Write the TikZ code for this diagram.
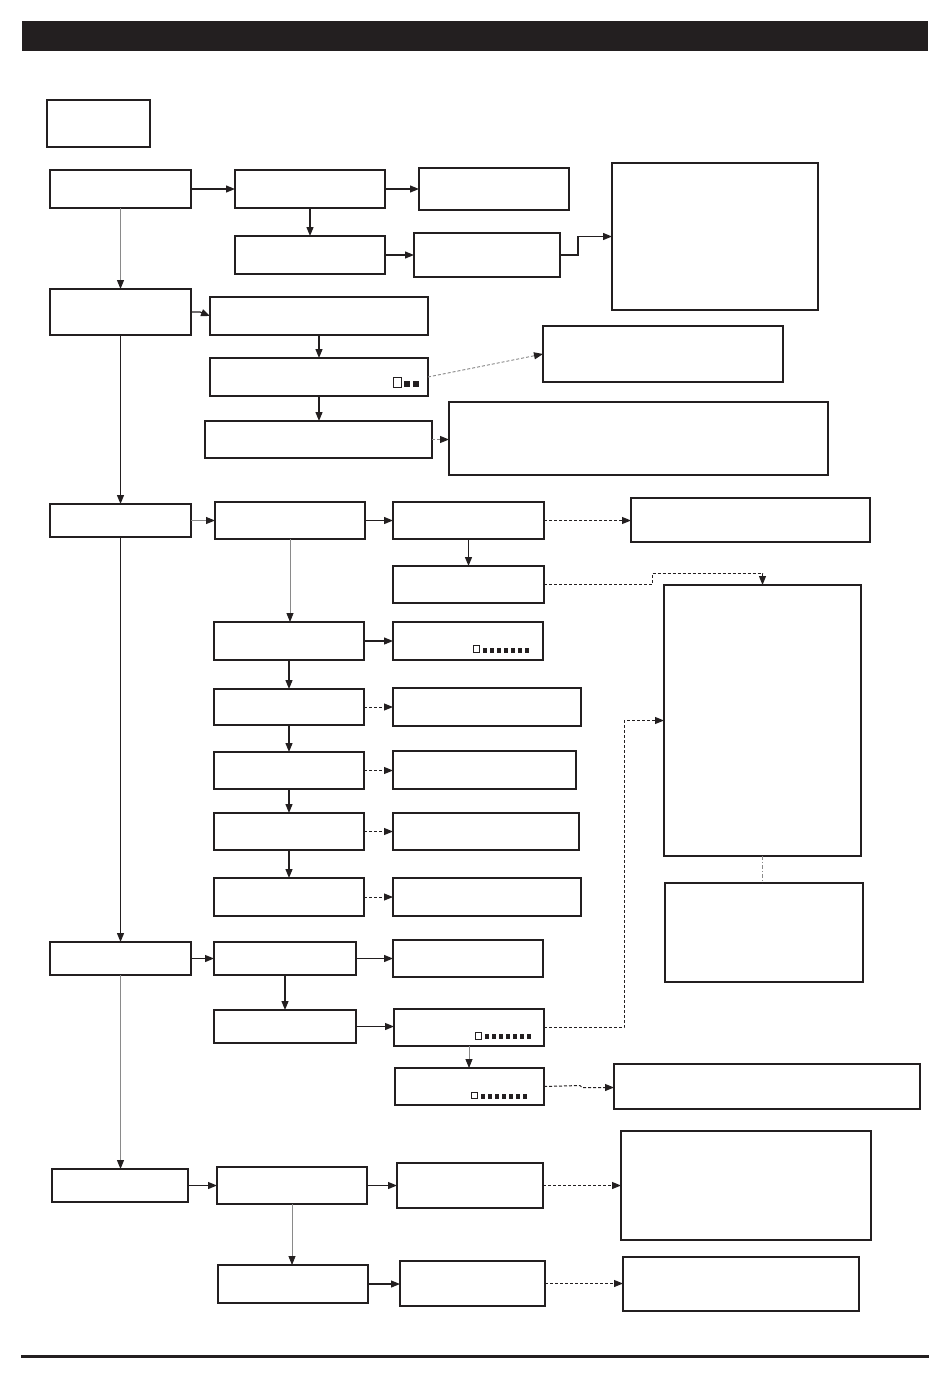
\documentclass[tikz,border=0pt]{standalone}
\usetikzlibrary{arrows.meta}
\definecolor{ink}{HTML}{231F20}
\definecolor{gline}{HTML}{8A8A8A}
\tikzset{
  box/.style={draw=ink, line width=1.3pt, inner sep=0pt, outer sep=0pt, fill=white},
  arr/.style={draw=ink, line width=1.2pt, -{Triangle[length=9pt,width=7pt,color=ink]}},
  garr/.style={draw=gline, line width=0.8pt, -{Triangle[length=9pt,width=7pt,color=ink]}},
  darr/.style={draw=ink, line width=1pt, dash pattern=on 3pt off 2pt, -{Triangle[length=9pt,width=7pt,color=ink]}},
  gdarr/.style={draw=gline, line width=0.9pt, dash pattern=on 3pt off 2pt, -{Triangle[length=9pt,width=7pt,color=ink]}},
  gdash/.style={draw=gline, line width=0.8pt, dash pattern=on 4pt off 2pt on 1pt off 2pt},
  osq/.style={draw=ink, line width=0.9pt},
  fsq/.style={fill=ink},
}
\newcommand{\bx}[5]{\node[box, minimum width={#4-#2}, minimum height={#5-#3}] (#1) at ({(#2+#4)/2},{(#3+#5)/2}) {};}
\newcommand{\sqrow}[4]{% x0, y0, y1, count
  \foreach \i in {1,...,#4} {\fill[fsq] ({#1+7*(\i-1)},#2) rectangle ({#1+7*(\i-1)+4},#3);}}
\begin{document}
\begin{tikzpicture}[x=1pt,y=-1pt]
\useasboundingbox (0,0) rectangle (950,1378);
% header and footer
\node[fill=ink, draw=none, inner sep=0pt, minimum width=906, minimum height=30] (hdr) at (475,36.5) {};
\node[fill=ink, draw=none, inner sep=0pt, minimum width=908, minimum height=2.6] (ftr) at (475,1356.7) {};
% legend
\bx{leg}{47}{100}{150}{147}
% column A
\bx{A1}{50}{170}{191}{208}
\bx{A2}{50}{289}{191}{335}
\bx{A3}{50}{504}{191}{537}
\bx{A4}{50}{942}{191}{975}
\bx{A5}{52}{1169}{188}{1202}
% section 1
\bx{B1}{235}{170}{385}{208}
\bx{C1}{419}{168}{569}{210}
\bx{B2}{235}{236}{385}{274}
\bx{C2}{414}{233}{560}{277}
\bx{D1}{612}{163}{818}{310}
% section 2
\bx{E1}{210}{297}{428}{335}
\bx{E2}{210}{358}{428}{396}
\bx{E3}{205}{421}{432}{458}
\bx{F1}{543}{326}{783}{382}
\bx{F2}{449}{402}{828}{475}
% section 3
\bx{G1}{215}{502}{365}{539}
\bx{H1}{393}{502}{544}{539}
\bx{I1}{631}{498}{870}{542}
\bx{H2}{393}{566}{544}{603}
\bx{J}{664}{585}{861}{856}
\bx{K}{665}{883}{863}{982}
\bx{G2}{214}{622}{364}{660}
\bx{H3}{393}{622}{543}{660}
\bx{G3}{214}{689}{364}{725}
\bx{H4}{393}{688}{581}{726}
\bx{G4}{214}{752}{364}{789}
\bx{H5}{393}{751}{576}{789}
\bx{G5}{214}{813}{364}{850}
\bx{H6}{393}{813}{579}{850}
\bx{G6}{214}{878}{364}{916}
\bx{H7}{393}{878}{581}{916}
% section 4
\bx{L1}{214}{942}{356}{975}
\bx{M1}{393}{940}{543}{977}
\bx{L2}{214}{1010}{356}{1043}
\bx{M2}{394}{1009}{544}{1046}
\bx{M3}{395}{1068}{544}{1105}
\bx{N}{614}{1064}{920}{1109}
% section 5
\bx{P1}{217}{1167}{367}{1204}
\bx{Q1}{397}{1163}{543}{1208}
\bx{R1}{621}{1131}{871}{1240}
\bx{P2}{218}{1265}{368}{1303}
\bx{Q2}{400}{1261}{545}{1306}
\bx{R2}{623}{1257}{859}{1311}
% marker squares
\draw[osq] (393.5,377.5) rectangle (401,387);
\fill[fsq] (404,381) rectangle (410,387);
\fill[fsq] (413,381) rectangle (419,387);
\draw[osq] (473.5,645.5) rectangle (479.5,652.5);
\sqrow{483}{647.5}{652.5}{7}
\draw[osq] (475,1032) rectangle (481.5,1039);
\sqrow{485}{1034}{1039}{7}
\draw[osq] (471,1092) rectangle (477.5,1098.5);
\sqrow{481}{1094}{1098.5}{7}
% column A connectors
\draw[garr] (A1.south) -- (A2.north);
\draw[arr] (A2.south) -- (A3.north);
\draw[arr] (A3.south) -- (A4.north);
\draw[garr] (A4.south) -- (A4.south |- A5.north);
% section 1 connectors
\draw[arr] (A1.east) -- (B1.west);
\draw[arr] (B1.east) -- (C1.west);
\draw[arr] (B1.south) -- (B2.north);
\draw[arr] (B2.east) -- (C2.west);
\draw[arr] (C2.east) -- (578,255) |- (D1.west);
% section 2 connectors
\draw[arr] (A2.east) -- (200,312) -- (E1.west);
\draw[arr] (E1.south) -- (E2.north);
\draw[arr] (E2.south) -- (E2.south |- E3.north);
\draw[gdarr] (E2.east) -- (F1.west);
\draw[gdarr] (E3.east) -- (E3.east -| F2.west);
% section 3 connectors
\draw[garr] (A3.east) -- (G1.west);
\draw[arr] (G1.east) -- (H1.west);
\draw[darr] (H1.east) -- (H1.east -| I1.west);
\draw[arr] (H1.south) -- (H2.north);
\draw[darr] (H2.east) -- (652,584.5) -- (652,573) -| (J.north);
\draw[garr] (G1.south) -- (G1.south |- G2.north);
\draw[arr] (G2.east) -- (H3.west);
\draw[arr] (G2.south) -- (G3.north);
\draw[arr] (G3.south) -- (G4.north);
\draw[arr] (G4.south) -- (G5.north);
\draw[arr] (G5.south) -- (G6.north);
\draw[darr] (G3.east) -- (H4.west);
\draw[darr] (G4.east) -- (G4.east -| H5.west);
\draw[darr] (G5.east) -- (H6.west);
\draw[darr] (G6.east) -- (H7.west);
\draw[gdash] (J.south) -- (J.south |- K.north);
% section 4 connectors
\draw[arr] (A4.east) -- (L1.west);
\draw[arr] (L1.east) -- (L1.east -| M1.west);
\draw[arr] (L1.south) -- (L2.north);
\draw[arr] (L2.east) -- (L2.east -| M2.west);
\draw[darr] (M2.east) -- (624,1027.5) |- (J.west);
\draw[garr] (M2.south) -- (M2.south |- M3.north);
\draw[darr] (M3.east) -- (580,1085.5) -- (582,1087.5) -- (N.west |- 0,1087.5);
% section 5 connectors
\draw[arr] (A5.east) -- (P1.west);
\draw[arr] (P1.east) -- (Q1.west);
\draw[darr] (Q1.east) -- (R1.west);
\draw[garr] (P1.south) -- (P1.south |- P2.north);
\draw[arr] (P2.east) -- (P2.east -| Q2.west);
\draw[darr] (Q2.east) -- (Q2.east -| R2.west);
\end{tikzpicture}
\end{document}
